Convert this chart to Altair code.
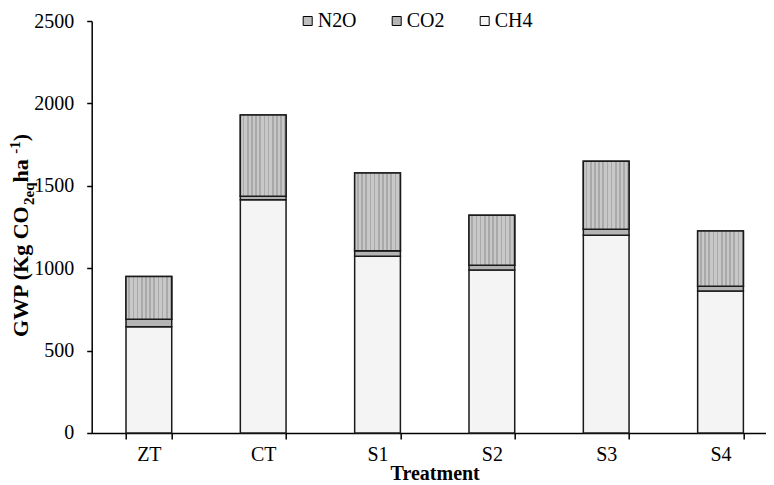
import altair as alt
import pandas as pd

# ---- data ----
treatments = ["ZT", "CT", "S1", "S2", "S3", "S4"]
ch4_values = [645, 1416, 1072, 989, 1200, 862]
co2_values = [45, 20, 34, 29, 36, 28]
n2o_values = [260, 494, 472, 303, 413, 336]
legend_order = ["N2O", "CO2", "CH4"]
stack_rank = {"CH4": 0, "CO2": 1, "N2O": 2}
y_ticks = [0, 500, 1000, 1500, 2000, 2500]

rows = []
for i, t in enumerate(treatments):
    for gas, vals in (("CH4", ch4_values), ("CO2", co2_values), ("N2O", n2o_values)):
        rows.append({"Treatment": t, "Gas": gas, "value": vals[i], "rank": stack_rank[gas]})
df = pd.DataFrame(rows)

FONT = "Liberation Serif"
FILL = {"N2O": "#bebebe", "CO2": "#b4b4b4", "CH4": "#f4f4f4"}

# vertical stripe texture for the N2O segments
n_stripes = 11
stops = []
for k in range(n_stripes):
    a = k / n_stripes
    b = (k + 0.6) / n_stripes
    c = (k + 1) / n_stripes
    stops += [
        alt.GradientStop(offset=round(a, 4), color="#c8c8c8"),
        alt.GradientStop(offset=round(b, 4), color="#c8c8c8"),
        alt.GradientStop(offset=round(b, 4), color="#a9a9a9"),
        alt.GradientStop(offset=round(c, 4), color="#a9a9a9"),
    ]
stripe_fill = alt.Gradient(gradient="linear", stops=stops, x1=0, x2=1, y1=0, y2=0)

PLOT_W = 674      # visible plot width (svg must stay inside the page)
BAND_RANGE = 686  # the category axis runs on past the right edge, as in the reference

x_enc = alt.X(
    "Treatment:N",
    sort=treatments,
    scale=alt.Scale(paddingInner=0.6, paddingOuter=0.3, range=[0, BAND_RANGE]),
    axis=alt.Axis(
        title="Treatment", labelAngle=0, tickBand="extent",
        labelFont=FONT, labelFontSize=20, labelColor="black", labelPadding=6,
        titleFont=FONT, titleFontSize=20, titleFontWeight="bold", titleColor="black",
        titlePadding=-1, titleX=343, domainColor="black", domainWidth=1.5,
        tickColor="black", tickWidth=1.5, tickSize=6,
    ),
)
y_enc = alt.Y(
    "y1:Q",
    scale=alt.Scale(domain=[0, 2500], nice=False),
    axis=alt.Axis(
        values=y_ticks, format="d", title=None, grid=False,
        labelFont=FONT, labelFontSize=20, labelColor="black", labelPadding=13,
        domainColor="black", domainWidth=1.5,
        tickColor="black", tickWidth=1.5, tickSize=5,
    ),
)

base = alt.Chart(df).transform_stack(
    stack="value", groupby=["Treatment"], as_=["y0", "y1"],
    sort=[alt.SortField("rank", order="ascending")],
)

bars = base.mark_bar(stroke="#1a1a1a", strokeWidth=1.5).encode(
    x=x_enc,
    y=y_enc,
    y2="y0:Q",
    color=alt.Color(
        "Gas:N",
        scale=alt.Scale(domain=legend_order, range=[FILL[g] for g in legend_order]),
        legend=alt.Legend(
            title=None, orient="none", direction="horizontal",
            legendX=206, legendY=-10, padding=0,
            symbolType="square", symbolSize=81,
            symbolStrokeColor="black", symbolStrokeWidth=1,
            labelFont=FONT, labelFontSize=20, labelColor="black",
            labelOffset=0, columnPadding=30,
        ),
    ),
)

stripes = base.transform_filter(alt.datum.Gas == "N2O").mark_bar(
    fill=stripe_fill, stroke="#1a1a1a", strokeWidth=1.5
).encode(x=alt.X("Treatment:N", sort=treatments), y="y1:Q", y2="y0:Q")

# rotated y-axis title with subscript / superscript pieces
title_df = pd.DataFrame({"k": [0]})
S = 22
SUB = 15
pieces = [
    ("GWP (Kg CO", S, 0, 6.0 * S),
    ("2eq", SUB, 6, 1.5 * SUB),
    ("\u00a0ha", S, 0, 1.306 * S),
    ("-1", SUB, -8, 0.833 * SUB),
    (")", S, 0, 0.333 * S),
]
title_layers = []
ypos = 316.0
for txt, size, shift, w in pieces:
    title_layers.append(
        alt.Chart(title_df).mark_text(
            text=txt, angle=270, align="left", baseline="alphabetic",
            font=FONT, fontWeight="bold", fontSize=size, color="black",
        ).encode(x=alt.value(-63.7 + shift), y=alt.value(ypos))
    )
    ypos -= w

chart = alt.layer(bars, stripes, *title_layers).properties(
    width=PLOT_W, height=412,
    autosize=alt.AutoSizeParams(type="none"),
    padding={"left": 83.7, "top": 13, "right": 0, "bottom": 52},
    background="white",
).configure_view(stroke=None).configure_legend(labelFont=FONT)

chart.save("out.html", embed_options={"renderer": "svg", "actions": False})
